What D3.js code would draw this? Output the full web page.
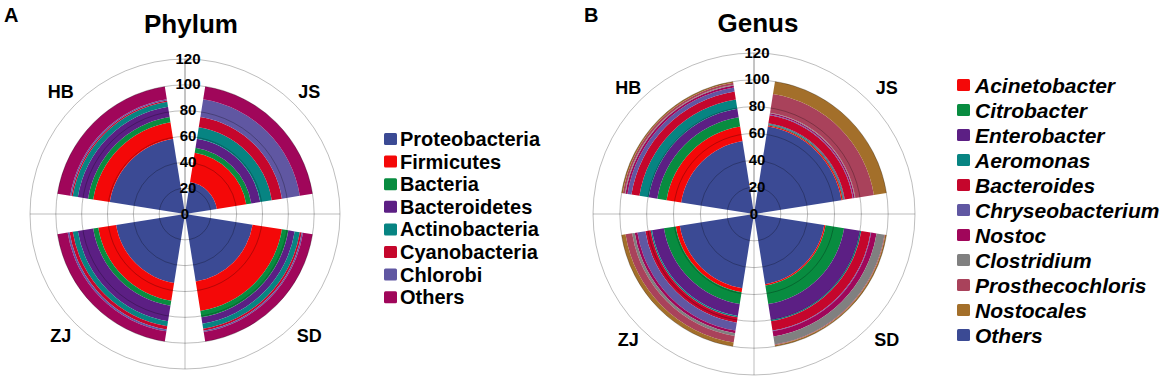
<!DOCTYPE html>
<html>
<head>
<meta charset="utf-8">
<script src="https://cdn.jsdelivr.net/npm/d3@7"></script>
<style>
  html,body{margin:0;padding:0;background:#fff;}
  svg{display:block;}
  text{font-family:"Liberation Sans",Arial,sans-serif;font-weight:bold;fill:#000;}
</style>
</head>
<body>
<svg id="chart" width="1170" height="382"></svg>
<script>
// ---------- DATA ----------
const sites = ["JS", "SD", "ZJ", "HB"];
const radialTicks = [0, 20, 40, 60, 80, 100, 120];

// Phylum (stack order from centre outward)
const phylumNames = ["Proteobacteria", "Firmicutes", "Bacteria", "Bacteroidetes",
  "Actinobacteria", "Cyanobacteria", "Chlorobi", "Others"];
const phylumJS = [25, 23, 4, 7, 9, 8, 14, 10];
const phylumSD = [53, 23, 5, 5, 4, 1.5, 1, 7.5];
const phylumZJ = [54, 14, 4, 12, 4, 2.5, 1.5, 8];
const phylumHB = [59, 13, 4, 8, 4, 1, 1, 10];

// Genus (stack order from centre outward)
const genusNames = ["Others", "Acinetobacter", "Citrobacter", "Enterobacter", "Aeromonas",
  "Bacteroides", "Chryseobacterium", "Nostoc", "Clostridium", "Prosthecochloris", "Nostocales"];
const genusJS = [66, 1, 0.5, 0.5, 0.5, 6, 0.5, 1, 0.5, 14, 9.5];
const genusSD = [53, 1, 14, 12, 1, 7, 0.5, 4, 6, 0.5, 1];
const genusZJ = [56, 3, 9, 9, 1, 4, 6, 2, 2, 5, 3];
const genusHB = [55, 11, 7, 6.5, 7, 6, 3, 1.5, 0.5, 1.5, 1];

// legend order
const phylumLegend = ["Proteobacteria", "Firmicutes", "Bacteria", "Bacteroidetes",
  "Actinobacteria", "Cyanobacteria", "Chlorobi", "Others"];
const genusLegend = ["Acinetobacter", "Citrobacter", "Enterobacter", "Aeromonas", "Bacteroides",
  "Chryseobacterium", "Nostoc", "Clostridium", "Prosthecochloris", "Nostocales", "Others"];

const phylumColors = ["#3B4A94", "#F40808", "#088C40", "#5C1F84", "#078482", "#C5062C", "#6057A2", "#A0065A"];
const genusColors = ["#3B4A94", "#F40808", "#088C40", "#5C1F84", "#078482", "#C5062C", "#6057A2",
  "#A0065A", "#808080", "#A9425B", "#A36F2A"];

// ---------- DRAW ----------
const svg = d3.select("#chart");

function rows(names, seriesBySite) {
  return sites.map((s, i) => {
    const o = { site: s };
    names.forEach((n, j) => o[n] = seriesBySite[i][j]);
    return o;
  });
}

function polarChart(cfg) {
  const g = svg.append("g").attr("transform", `translate(${cfg.cx},${cfg.cy})`);
  const r = d3.scaleLinear().domain([0, 120]).range([0, cfg.R]);
  const ang = d3.scaleBand().domain(sites).range([0, 2 * Math.PI]).paddingInner(0.2).paddingOuter(0.1);
  const color = d3.scaleOrdinal().domain(cfg.names).range(cfg.colors);
  const stacked = d3.stack().keys(cfg.names)(rows(cfg.names, cfg.values));

  const arc = d3.arc()
    .innerRadius(d => r(d[0]))
    .outerRadius(d => r(d[1]))
    .startAngle(d => ang(d.data.site))
    .endAngle(d => ang(d.data.site) + ang.bandwidth());

  g.append("g").selectAll("g").data(stacked).join("g")
    .attr("fill", d => color(d.key))
    .selectAll("path").data(d => d).join("path")
    .attr("d", arc);

  // grid circles
  g.append("g").selectAll("circle").data(radialTicks.slice(1)).join("circle")
    .attr("r", d => r(d)).attr("fill", "none")
    .attr("stroke", "rgba(0,0,0,0.26)").attr("stroke-width", 1);
  // cross lines
  const Rm = r(120);
  g.append("line").attr("x1", -Rm).attr("x2", Rm).attr("y1", 0).attr("y2", 0)
    .attr("stroke", "rgba(0,0,0,0.26)");
  g.append("line").attr("x1", 0).attr("x2", 0).attr("y1", 0).attr("y2", Rm)
    .attr("stroke", "rgba(0,0,0,0.26)");
  g.append("line").attr("x1", 0).attr("x2", 0).attr("y1", 0).attr("y2", -Rm)
    .attr("stroke", "#8a8a8a");

  // tick labels
  g.append("g").selectAll("text").data(radialTicks).join("text")
    .attr("x", d => d === 0 ? 0 : 3).attr("y", d => -r(d) - 1)
    .attr("text-anchor", "middle").attr("dominant-baseline", "central")
    .style("font-size", "15px").text(d => d);

  // site labels
  g.append("g").selectAll("text").data(sites).join("text")
    .attr("x", d => {
      const a = ang(d) + ang.bandwidth() / 2;
      return Math.sin(a) * cfg.labR + (Math.sin(a) > 0 ? cfg.labDx : -cfg.labDxL);
    })
    .attr("y", d => {
      const a = ang(d) + ang.bandwidth() / 2;
      return -Math.cos(a) * cfg.labR;
    })
    .attr("text-anchor", "middle").attr("dominant-baseline", "central")
    .style("font-size", "18px").text(d => d);

  // title
  svg.append("text").attr("x", cfg.titleX).attr("y", cfg.titleY)
    .attr("text-anchor", "middle").style("font-size", "26px").text(cfg.title);
  svg.append("text").attr("x", cfg.letterX).attr("y", 22)
    .style("font-size", "20px").text(cfg.letter);

  // legend
  const lg = svg.append("g").attr("transform", `translate(${cfg.legX},${cfg.legY})`);
  const items = lg.selectAll("g").data(cfg.legend).join("g")
    .attr("transform", (d, i) => `translate(0,${i * cfg.legStep})`);
  items.append("rect").attr("x", 0).attr("y", -6).attr("width", 13).attr("height", 12)
    .attr("rx", 1.5).attr("fill", d => color(d));
  items.append("text").attr("x", cfg.legTextDx).attr("y", 0)
    .attr("dominant-baseline", "central")
    .style("font-size", cfg.legFont + "px")
    .style("font-style", cfg.italic ? "italic" : "normal")
    .text(d => d);
}

polarChart({
  cx: 185, cy: 214, R: 155, names: phylumNames, colors: phylumColors,
  values: [phylumJS, phylumSD, phylumZJ, phylumHB],
  labR: 173, labDx: 2, labDxL: 2,
  title: "Phylum", titleX: 191, titleY: 33, letter: "A", letterX: 4,
  legend: phylumLegend, legX: 384, legY: 139, legStep: 22.6, legTextDx: 16, legFont: 20, italic: false
});

polarChart({
  cx: 754, cy: 214, R: 161, names: genusNames, colors: genusColors,
  values: [genusJS, genusSD, genusZJ, genusHB],
  labR: 178, labDx: 7, labDxL: 0,
  title: "Genus", titleX: 758, titleY: 32, letter: "B", letterX: 584,
  legend: genusLegend, legX: 957, legY: 85, legStep: 25, legTextDx: 18, legFont: 21, italic: true
});
</script>
</body>
</html>
